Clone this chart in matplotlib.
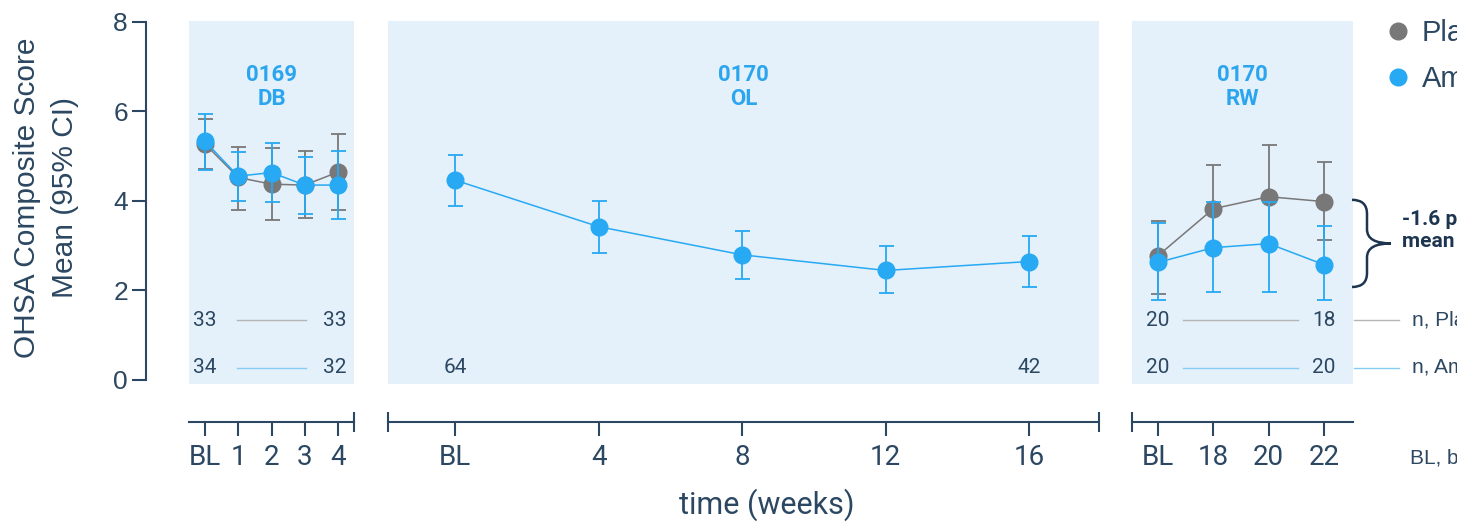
import matplotlib
matplotlib.use('Agg')
import matplotlib.pyplot as plt
from matplotlib.path import Path
from matplotlib.patches import PathPatch
from matplotlib.lines import Line2D
from matplotlib.transforms import IdentityTransform

# ---------------- data ----------------
db_weeks = [0, 1, 2, 3, 4]
db_labels = ['BL', '1', '2', '3', '4']
db_pbo_mean = [5.27, 4.52, 4.37, 4.35, 4.64]
db_pbo_lo = [4.70, 3.79, 3.56, 3.62, 3.79]
db_pbo_hi = [5.83, 5.21, 5.17, 5.12, 5.50]
db_amp_mean = [5.33, 4.55, 4.63, 4.35, 4.35]
db_amp_lo = [4.68, 3.99, 3.97, 3.70, 3.59]
db_amp_hi = [5.95, 5.10, 5.28, 4.97, 5.12]

ol_weeks = [0, 4, 8, 12, 16]
ol_labels = ['BL', '4', '8', '12', '16']
ol_amp_mean = [4.46, 3.42, 2.79, 2.44, 2.64]
ol_amp_lo = [3.89, 2.84, 2.26, 1.93, 2.08]
ol_amp_hi = [5.03, 3.99, 3.33, 2.99, 3.20]

rw_weeks = [16, 18, 20, 22]
rw_labels = ['BL', '18', '20', '22']
rw_pbo_mean = [2.77, 3.82, 4.09, 3.98]
rw_pbo_lo = [1.92, 2.85, 2.95, 3.12]
rw_pbo_hi = [3.55, 4.81, 5.24, 4.87]
rw_amp_mean = [2.62, 2.95, 3.04, 2.57]
rw_amp_lo = [1.77, 1.95, 1.95, 1.77]
rw_amp_hi = [3.50, 3.97, 3.97, 3.44]

db_n_pbo = ['33', '33']
db_n_amp = ['34', '32']
ol_n_amp = ['64', '42']
rw_n_pbo = ['20', '18']
rw_n_amp = ['20', '20']

panel_titles = ['0169\nDB', '0170\nOL', '0170\nRW']
legend_labels = ['Placebo', 'Ampreloxetine']
diff_text = '-1.6 points\nmean difference'
brace_range = (2.07, 4.02)

# ---------------- style ----------------
NAVY = '#2b4761'
BLUE = '#27a9f3'
GRAY = '#787878'
PANEL = '#e4f0fa'
TITLE_BLUE = '#2ba6ee'
W, H = 1457, 522

fig = plt.figure(figsize=(W / 100, H / 100), dpi=100)
fig.patch.set_facecolor('white')

YTOP, YBOT = 20.7, 384.0
YLIM = (-0.10, 8.027)
N_Y1, N_Y2 = 1.33, 0.26


def rect(x0, x1):
    return [x0 / W, 1 - YBOT / H, (x1 - x0) / W, (YBOT - YTOP) / H]


ax_db = fig.add_axes(rect(189, 354))
ax_ol = fig.add_axes(rect(388, 1099))
ax_rw = fig.add_axes(rect(1132, 1353))

axes = [ax_db, ax_ol, ax_rw]
xlims = [(-0.48, 4.48), (-1.87, 17.95), (15.06, 23.05)]
ticks = [(db_weeks, db_labels), (ol_weeks, ol_labels), (rw_weeks, rw_labels)]
ax_h_px = YBOT - YTOP
axis_off_px = 38.0

for ax, xl, (tk, tl), title in zip(axes, xlims, ticks, panel_titles):
    ax.set_facecolor(PANEL)
    ax.set_xlim(*xl)
    ax.set_ylim(*YLIM)
    for s in ['top', 'right', 'left']:
        ax.spines[s].set_visible(False)
    ax.spines['bottom'].set_position(('outward', axis_off_px * 72 / 100))
    ax.spines['bottom'].set_color(NAVY)
    ax.spines['bottom'].set_linewidth(1.5)
    ax.set_xticks(tk)
    ax.set_xticklabels(tl, fontsize=20, family='Roboto', color=NAVY)
    ax.tick_params(axis='x', direction='out', length=10, width=1.5, color=NAVY, pad=6)
    ax.tick_params(axis='y', left=False, labelleft=False)
    ax.text(0.5, 0.817, title, transform=ax.transAxes, ha='center', va='center',
            fontsize=16, fontweight='bold', family='Roboto', color=TITLE_BLUE,
            linespacing=1.15)

# y axis on the first panel
ax_db.spines['left'].set_visible(True)
ax_db.spines['left'].set_position(('outward', 43 * 72 / 100))
ax_db.spines['left'].set_bounds(0, 8)
ax_db.spines['left'].set_color(NAVY)
ax_db.spines['left'].set_linewidth(1.5)
ax_db.set_yticks([0, 2, 4, 6, 8])
ax_db.set_yticklabels(['0', '2', '4', '6', '8'], fontsize=19, family='Liberation Sans', color=NAVY)
ax_db.tick_params(axis='y', left=True, labelleft=True, direction='out', length=10,
                  width=1.5, color=NAVY, pad=3)

# axis break bars
yb = -axis_off_px / ax_h_px
for ax, ends in [(ax_db, [1]), (ax_ol, [0, 1]), (ax_rw, [0])]:
    for e in ends:
        ax.plot([e], [yb], marker='|', ms=14.4, mew=1.5, color=NAVY,
                transform=ax.transAxes, clip_on=False)

ekw = dict(capsize=5.4, elinewidth=1.3, capthick=1.3, lw=1.1, marker='o', ms=12)


def series(ax, x, m, lo, hi, color, z):
    yerr = [[a - b for a, b in zip(m, lo)], [b - a for a, b in zip(m, hi)]]
    ax.errorbar(x, m, yerr=yerr, color=color, ecolor=color, mfc=color, mec=color,
                zorder=z, **ekw)


series(ax_db, db_weeks, db_pbo_mean, db_pbo_lo, db_pbo_hi, GRAY, 3)
series(ax_db, db_weeks, db_amp_mean, db_amp_lo, db_amp_hi, BLUE, 4)
series(ax_ol, ol_weeks, ol_amp_mean, ol_amp_lo, ol_amp_hi, BLUE, 4)
series(ax_rw, rw_weeks, rw_pbo_mean, rw_pbo_lo, rw_pbo_hi, GRAY, 3)
series(ax_rw, rw_weeks, rw_amp_mean, rw_amp_lo, rw_amp_hi, BLUE, 4)

# n rows
nkw = dict(ha='center', va='center', fontsize=15, family='Roboto', color=NAVY)
LGRAY = '#b5b5b5'
LBLUE = '#86cdf3'


def nrow(ax, xs, vals, y, lcolor, line_x):
    ax.text(xs[0], y, vals[0], **nkw)
    ax.text(xs[1], y, vals[1], **nkw)
    if line_x is not None:
        ax.plot(line_x, [y, y], color=lcolor, lw=1.0)


nrow(ax_db, [db_weeks[0], db_weeks[-1] - 0.1], db_n_pbo, N_Y1, LGRAY, [0.95, 3.05])
nrow(ax_db, [db_weeks[0], db_weeks[-1] - 0.1], db_n_amp, N_Y2, LBLUE, [0.95, 3.05])
nrow(ax_ol, [ol_weeks[0], ol_weeks[-1]], ol_n_amp, N_Y2, LBLUE, None)
nrow(ax_rw, [rw_weeks[0], rw_weeks[-1]], rw_n_pbo, N_Y1, LGRAY, [16.9, 21.05])
nrow(ax_rw, [rw_weeks[0], rw_weeks[-1]], rw_n_amp, N_Y2, LBLUE, [16.9, 21.05])

# right-side n labels
tr = ax_rw.get_yaxis_transform()
ax_rw.plot([1.005, 1.208], [N_Y1, N_Y1], color=LGRAY, lw=1.0, transform=tr, clip_on=False)
ax_rw.plot([1.005, 1.208], [N_Y2, N_Y2], color=LBLUE, lw=1.0, transform=tr, clip_on=False)
ax_rw.text(1.267, N_Y1, 'n, ' + legend_labels[0], transform=tr, ha='left', va='center',
           fontsize=15, family='Liberation Sans', color=NAVY, clip_on=False)
ax_rw.text(1.267, N_Y2, 'n, ' + legend_labels[1], transform=tr, ha='left', va='center',
           fontsize=15, family='Liberation Sans', color=NAVY, clip_on=False)

# difference annotation
ax_rw.text(1.222, sum(brace_range) / 2 + 0.29, diff_text, transform=tr, ha='left', va='center',
           fontsize=15, fontweight='bold', family='Roboto', color='#1e3550',
           linespacing=1.25, clip_on=False)

xr = ax_rw.transAxes.transform((1, 0))[0]
yt = ax_rw.transData.transform((0, brace_range[1]))[1]
ybm = ax_rw.transData.transform((0, brace_range[0]))[1]
ym = (yt + ybm) / 2
x0, xv, xt, r = xr - 1, xr + 14, xr + 38, 14
verts = [(x0, yt), (xv, yt), (xv, yt - r), (xv, ym + r), (xv, ym), (xt, ym),
         (xv, ym), (xv, ym - r), (xv, ybm + r), (xv, ybm), (x0, ybm)]
codes = [Path.MOVETO, Path.CURVE3, Path.CURVE3, Path.LINETO, Path.CURVE3, Path.CURVE3,
         Path.CURVE3, Path.CURVE3, Path.LINETO, Path.CURVE3, Path.CURVE3]
fig.add_artist(PathPatch(Path(verts, codes), fill=False, ec='#1e3550', lw=1.8,
                         transform=IdentityTransform(), clip_on=False))

# legend
handles = [Line2D([], [], ls='none', marker='o', ms=12, color=GRAY),
           Line2D([], [], ls='none', marker='o', ms=12, color=BLUE)]
fig.legend(handles, legend_labels, loc='upper left', bbox_to_anchor=(1383 / W, 1 - 19 / H),
           frameon=False, prop={'family': 'Liberation Sans', 'size': 21}, labelcolor=NAVY,
           handlelength=1.0, handletextpad=0.32, labelspacing=0.62, borderpad=0,
           borderaxespad=0)

# other texts
fig.text(1410 / W, 1 - 458 / H, 'BL, baseline', ha='left', va='center', fontsize=15,
         family='Liberation Sans', color=NAVY)
fig.text(767 / W, 1 - 505 / H, 'time (weeks)', ha='center', va='center', fontsize=22,
         family='Roboto', color=NAVY)
fig.text(46 / W, 1 - 198 / H, 'OHSA Composite Score\nMean (95% CI)', rotation=90,
         ha='center', va='center', multialignment='center', fontsize=21.5,
         family='Liberation Sans', color=NAVY, linespacing=1.45)

fig.savefig('out.png', dpi=100)
